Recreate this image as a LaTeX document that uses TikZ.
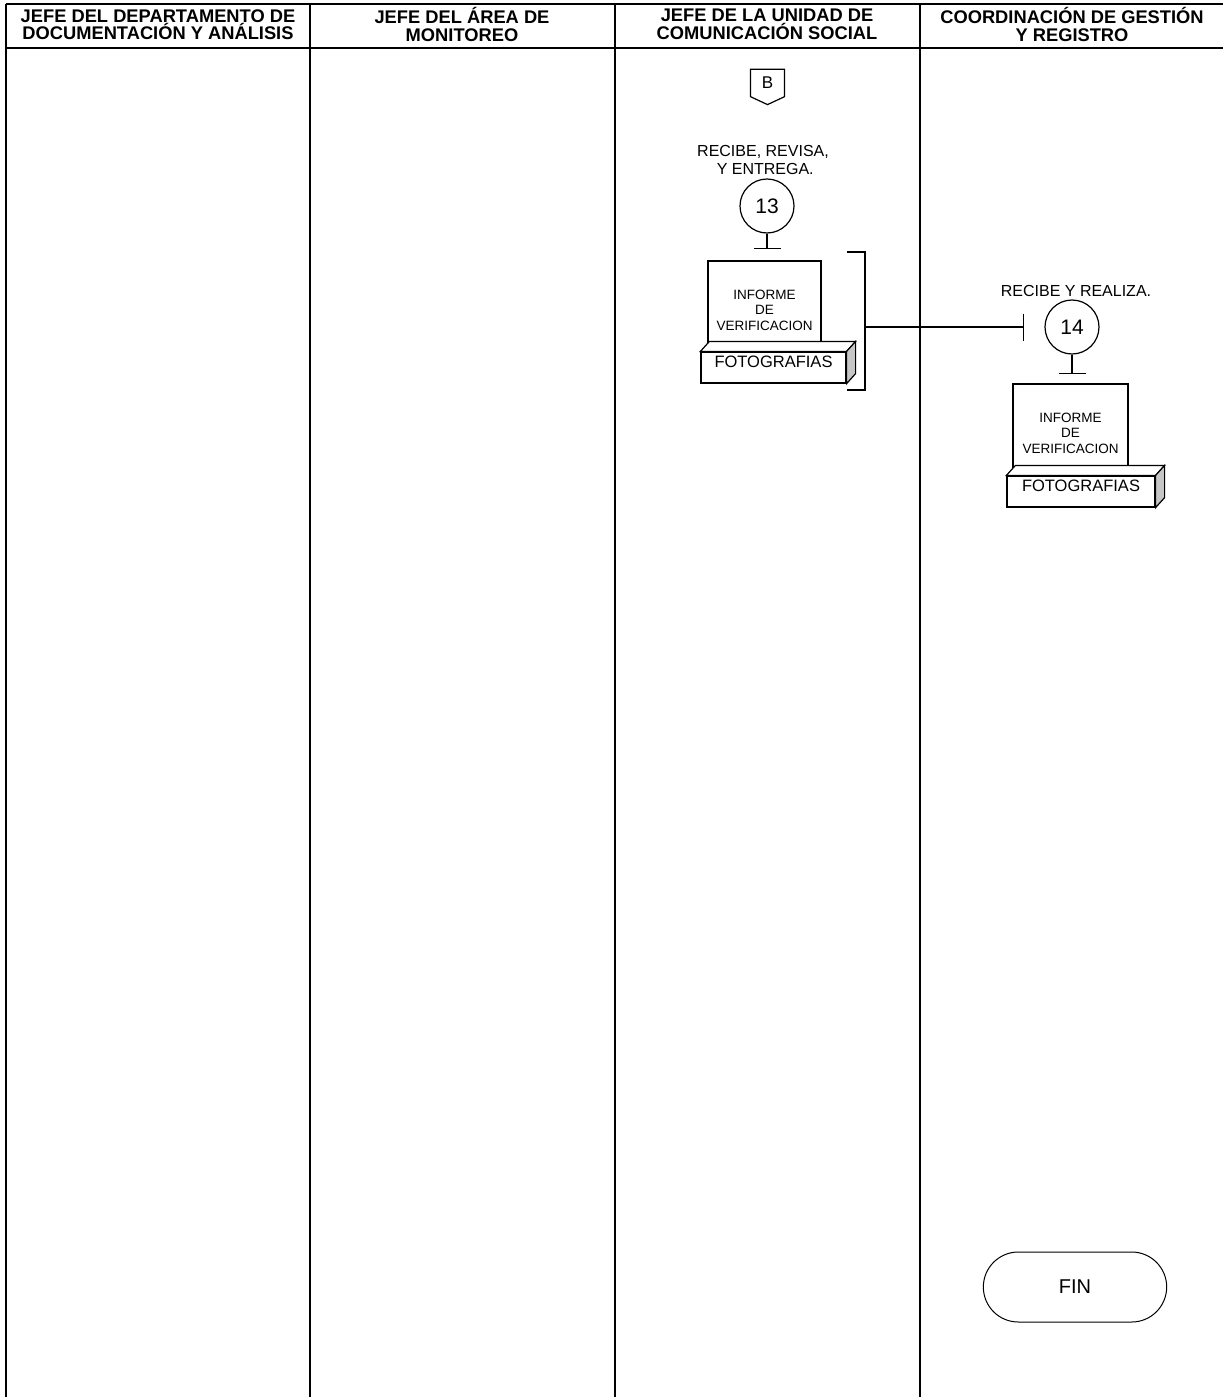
\documentclass[tikz,border=0pt]{standalone}
\usepackage{fontspec}
\setmainfont{Liberation Sans}
\usetikzlibrary{arrows.meta, positioning, shapes.misc, shapes.symbols}

% top and side faces of a box node
\newcommand{\cubefaces}[1]{%
  \draw[line width=1.2pt, fill=white] (#1.north west) -- ++(9,-10) -- ([shift={(9,-10)}]#1.north east) -- (#1.north east) -- cycle;
  \draw[line width=1.2pt, fill=gray!45] (#1.north east) -- ++(9,-10) -- ([shift={(9,-10)}]#1.south east) -- (#1.south east) -- cycle;}

\begin{document}
\begin{tikzpicture}[x=1pt, y=-1pt,
    lane/.style={font=\bfseries\fontsize{18.3}{17.5}\selectfont, align=center, inner sep=0pt},
    act/.style={circle, draw, line width=1.2pt, minimum size=54pt, inner sep=0pt, font=\fontsize{21}{21}\selectfont},
    doc/.style={draw, line width=1.2pt, fill=white, minimum width=113pt, minimum height=81pt, inner sep=0pt},
    doctext/.style={align=center, inner sep=0pt, font=\fontsize{13.5}{15.5}\selectfont},
    foto/.style={draw, line width=1.2pt, fill=white, minimum width=145pt, minimum height=31pt, inner sep=0pt, text depth=11pt, font=\fontsize{16.5}{16}\selectfont},
    note/.style={align=center, inner sep=0pt, font=\fontsize{16}{18}\selectfont},
    link/.style={line width=1.2pt, -{Bar[width=27pt]}},
    frame/.style={line width=2pt}]

    \useasboundingbox (0,0) rectangle (1223,1397);

    % Lanes
    \draw[frame] (5.5,4.5) -- (1223,4.5);
    \draw[frame] (5.5,48) -- (1223,48);
    \foreach \x in {5.5, 309.5, 615, 919.5}
        \draw[frame] (\x,4.5) -- (\x,1397);

    \node[lane] (lane1) at (158,24.5) {JEFE DEL DEPARTAMENTO DE\\DOCUMENTACIÓN Y ANÁLISIS};
    \node[lane] (lane2) at (462,24.5) {JEFE DEL ÁREA DE\\MONITOREO};
    \node[lane] (lane3) at (767,24.5) {JEFE DE LA UNIDAD DE\\COMUNICACIÓN SOCIAL};
    \node[lane] (lane4) at (1072,24.5) {COORDINACIÓN DE GESTIÓN\\Y REGISTRO};

    % Connector
    \node[draw, signal, signal to=south, signal pointer angle=130, line width=1.2pt, minimum width=34pt, minimum height=30pt, inner sep=0pt, font=\fontsize{17}{17}\selectfont] (conB) at (767.5,83) {B};

    % Step 13
    \node[note] (note13) at (763,160) {RECIBE, REVISA,\\ \ Y ENTREGA.};
    \node[act] (act13) at (767,206) {13};
    \node[doc] (doc13) at (764.5,301.5) {};
    \node[doctext] (doc13t) at ([yshift=-8.5pt]doc13.center) {INFORME\\DE\\VERIFICACION};
    \node[foto] (foto13) at (773.5,367.5) {FOTOGRAFIAS};
    \cubefaces{foto13}

    % Bracket
    \draw[line width=1.2pt] (847,252) -- (865,252) -- (865,390) -- (847,390);
    \coordinate (brk13) at (865,327);

    % Step 14
    \node[note] (note14) at (1076,290.5) {RECIBE Y REALIZA.};
    \node[act] (act14) at (1072,327) {14};
    \node[doc, minimum width=115pt, minimum height=83pt] (doc14) at (1070.5,425.5) {};
    \node[doctext] (doc14t) at ([yshift=-7.5pt]doc14.center) {INFORME\\DE\\VERIFICACION};
    \node[foto, minimum width=148pt] (foto14) at (1081,491.5) {FOTOGRAFIAS};
    \cubefaces{foto14}

    % End
    \node[draw, rounded rectangle, line width=1pt, minimum width=190pt, minimum height=70pt, font=\fontsize{20}{20}\selectfont] (fin) at (1075,1287) {FIN};

    % Arrows
    \draw[link, shorten >=11pt] (act13.south) -- (act13.south |- doc13.north);
    \draw[link, shorten >=20pt] (brk13) -- (act14.west);
    \draw[link, shorten >=9pt] (act14.south) -- (act14.south |- doc14.north);
\end{tikzpicture}
\end{document}
